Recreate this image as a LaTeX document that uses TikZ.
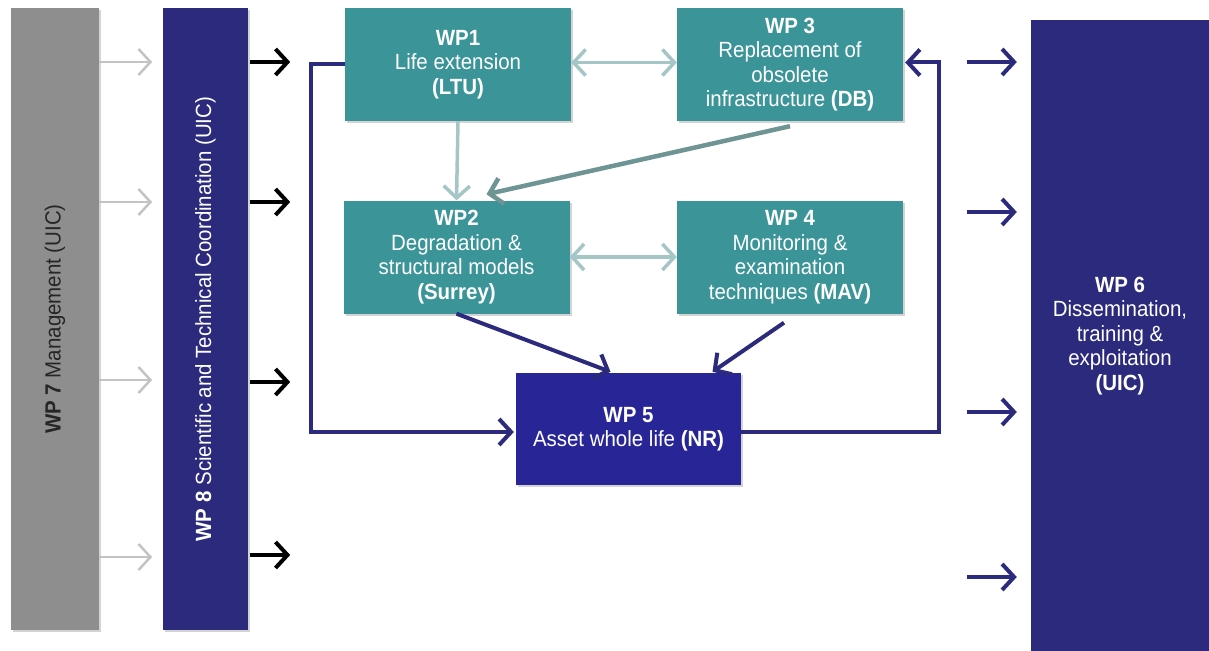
\documentclass[tikz,border=0pt]{standalone}
\usepackage{fontspec}
\setmainfont[FakeStretch=0.93]{Liberation Sans}
\usetikzlibrary{arrows.meta,shadows,calc}
\definecolor{navy}{RGB}{43,42,124}
\definecolor{wpblue}{RGB}{40,38,150}
\definecolor{teal}{RGB}{58,148,152}
\definecolor{boxgray}{RGB}{142,142,142}
\definecolor{lightarr}{RGB}{165,198,198}
\definecolor{midarr}{RGB}{110,148,148}
\definecolor{grayarr}{RGB}{195,195,195}
\tikzset{
  txt/.style={font=\fontsize{22}{24.5}\selectfont},
  box/.style={draw=none, inner sep=0pt, align=center, text=white, txt,
    drop shadow={shadow xshift=2pt, shadow yshift=-2pt, opacity=0.35}},
  tealbox/.style={box, fill=teal, minimum width=226pt, minimum height=113pt},
  barb/.style={-{Straight Barb[length=12pt,width=26pt]}},
  dbarb/.style={{Straight Barb[length=12pt,width=26pt]}-{Straight Barb[length=12pt,width=26pt]}},
  navyline/.style={draw=navy, line width=4pt},
  lightline/.style={draw=lightarr, line width=3.5pt},
  grayline/.style={draw=grayarr, line width=2.5pt},
  blackline/.style={draw=black, line width=4pt},
}
\begin{document}
\begin{tikzpicture}[x=1pt,y=-1pt]
\useasboundingbox (0,0) rectangle (1209,650);
% side bars
\node[box, fill=boxgray, minimum width=88pt, minimum height=622pt] (wp7) at (55,319) {};
\node[rotate=90, text=black!85, txt] (wp7t) at (wp7.center) {\textbf{WP 7} Management (UIC)};
\node[box, fill=navy, minimum width=85pt, minimum height=622pt] (wp8) at (205.5,319) {};
\node[rotate=90, text=white, txt] (wp8t) at (wp8.center) {\textbf{WP 8} Scientific and Technical Coordination (UIC)};
\node[box, fill=navy, minimum width=178pt, minimum height=632pt] (wp6) at (1120,336) {\textbf{WP 6}\\Dissemination,\\training \&\\exploitation\\\textbf{(UIC)}};
% work packages
\node[tealbox] (wp1) at (458,64.5) {\textbf{WP1}\\Life extension\\\textbf{(LTU)}};
\node[tealbox] (wp3) at (790,64.5) {\textbf{WP 3}\\Replacement of\\obsolete\\infrastructure \textbf{(DB)}};
\node[tealbox] (wp2) at (456.5,257) {\textbf{WP2}\\Degradation \&\\structural models\\\textbf{(Surrey)}};
\node[tealbox] (wp4) at (790,257) {\textbf{WP 4}\\Monitoring \&\\examination\\techniques \textbf{(MAV)}};
\node[box, fill=wpblue, minimum width=225pt, minimum height=112pt] (wp5) at (628.5,429) {\textbf{WP 5}\\Asset whole life \textbf{(NR)}};
% connectors among WPs
\draw[lightline, dbarb] ($(wp1.east)+(0,-2)$) -- ($(wp3.west)+(0,-2)$);
\draw[lightline, dbarb] (wp2.east) -- (wp4.west);
\draw[lightline, barb] (wp1.south) -- (wp2.north);
\draw[draw=midarr, line width=4.5pt, barb] ($(wp3.south)+(0,5)$) -- ($(wp2.north)+(30,-6)$);
\draw[navyline, barb] (wp2.south) -- ($(wp5.north)+(-18,-1)$);
\draw[navyline, barb] ($(wp4.south)+(-6,9)$) -- ($(wp5.north)+(84,-1)$);
\draw[navyline, barb] (wp1.west) -- ++(-34,0) |- ($(wp5.west)+(-2,3)$);
\draw[navyline, barb] ($(wp5.east)+(0,3)$) -| ($(wp3.east)+(36,-2)$) -- ($(wp3.east)+(2,-2)$);
% side arrows
\foreach \y/\n in {62/a,202/b,380/c,557/d}{
  \coordinate (g\n) at (wp7.east |- 0,\y);
  \draw[grayline, barb] (g\n) -- ++(53,0);
}
\foreach \y/\n in {62/a,202/b,382/c,555/d}{
  \coordinate (k\n) at ($(wp8.east |- 0,\y)+(2,0)$);
  \draw[blackline, barb] (k\n) -- ++(40,0);
}
\foreach \y/\n in {62/a,212/b,412/c,577/d}{
  \coordinate (n\n) at ($(wp6.west |- 0,\y)+(-14,0)$);
  \draw[navyline, barb] ($(n\n)+(-50,0)$) -- (n\n);
}
\end{tikzpicture}
\end{document}
